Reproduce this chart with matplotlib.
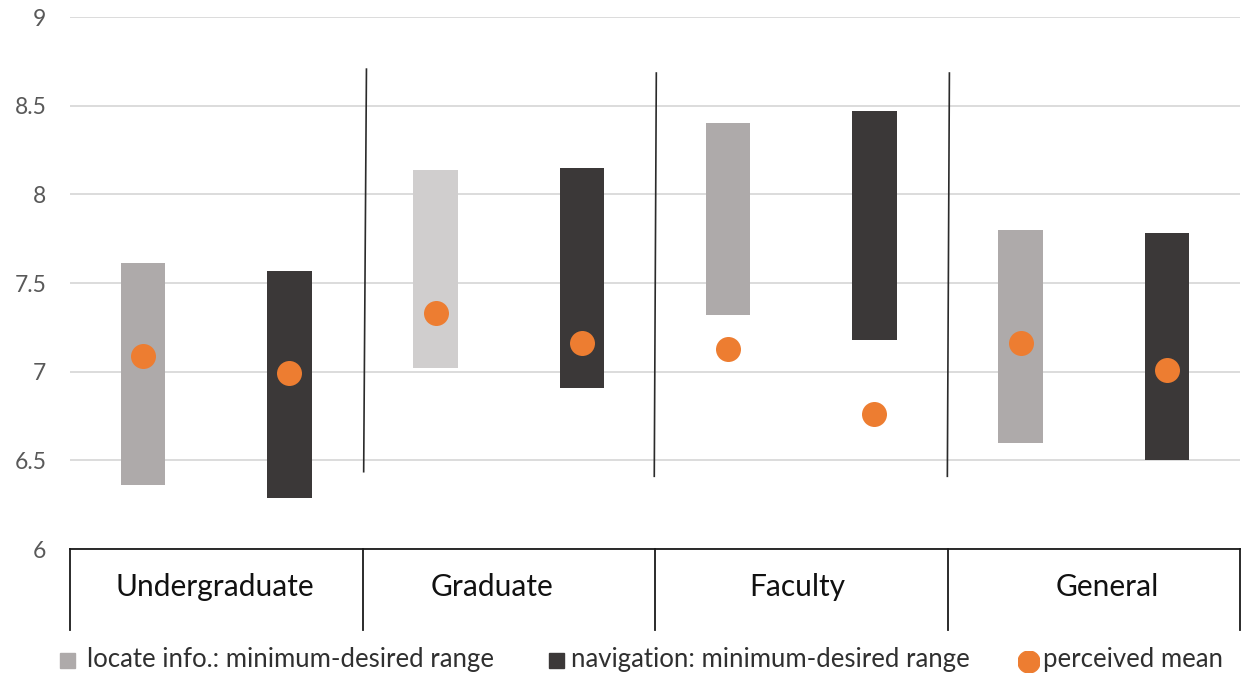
import matplotlib
matplotlib.use("Agg")
import matplotlib.pyplot as plt
from matplotlib.patches import Rectangle, Circle
from matplotlib.transforms import blended_transform_factory

# Respondent groups and their min-desired ranges (two bars per group)
groups = ["Undergraduate", "Graduate", "Faculty", "General"]
locate_min = [6.36, 7.02, 7.32, 6.60]
locate_desired = [7.61, 8.14, 8.40, 7.80]
nav_min = [6.29, 6.91, 7.18, 6.50]
nav_desired = [7.57, 8.15, 8.47, 7.78]
locate_perceived = [7.09, 7.33, 7.13, 7.16]
nav_perceived = [6.99, 7.16, 6.76, 7.01]
y_ticks = [6, 6.5, 7, 7.5, 8, 8.5, 9]
y_tick_labels = ["6", "6.5", "7", "7.5", "8", "8.5", "9"]
legend_labels = ["locate info.: minimum-desired range",
                 "navigation: minimum-desired range",
                 "perceived mean"]

LOCATE = "#AEAAAA"
LOCATE_LIGHT = "#D0CECE"
NAV = "#3B3838"
ORANGE = "#ED7D31"
FONT = "Lato"

plt.rcParams["font.family"] = [FONT, "DejaVu Sans"]

W, H = 1241, 677
fig = plt.figure(figsize=(W / 100, H / 100), dpi=100)
ax = fig.add_axes([70 / W, 1 - 549 / H, 1170 / W, 532 / H])

n = len(groups)
x_loc = [2 * i for i in range(n)]
x_nav = [2 * i + 1 for i in range(n)]
bw = 0.305

loc_colors = [LOCATE_LIGHT if g == "Graduate" else LOCATE for g in groups]
ax.bar(x_loc, [t - b for t, b in zip(locate_desired, locate_min)],
       bottom=locate_min, width=bw, color=loc_colors, zorder=3)
ax.bar(x_nav, [t - b for t, b in zip(nav_desired, nav_min)],
       bottom=nav_min, width=bw, color=NAV, zorder=3)
ax.plot(x_loc, locate_perceived, "o", ms=18, color=ORANGE, mec="none", zorder=4)
ax.plot(x_nav, nav_perceived, "o", ms=18, color=ORANGE, mec="none", zorder=4)

ax.set_xlim(-0.5, 2 * n - 0.5)
ax.set_ylim(6, 9)
ax.set_yticks(y_ticks)
ax.set_yticklabels(y_tick_labels)
ax.tick_params(axis="y", length=0, pad=17, labelsize=16.5, labelcolor="#595959")
ax.set_xticks([])
ax.yaxis.grid(True, color="#D9D9D9", lw=1.3, zorder=0)
for s in ["top", "right", "left"]:
    ax.spines[s].set_visible(False)
ax.spines["bottom"].set_color("#1a1a1a")
ax.spines["bottom"].set_linewidth(1.3)
ax.spines["bottom"].set_zorder(5)

# Hand-placed dividers between groups inside the plot
dividers = [((1.527, 8.706), (1.508, 6.436)),
            ((3.509, 8.684), (3.495, 6.41)),
            ((5.513, 8.684), (5.499, 6.41))]
for (x0, y0), (x1, y1) in dividers:
    ax.plot([x0, x1], [y0, y1], color="#2b2b2b", lw=1.2, zorder=2)

# Category axis box underneath
tr = blended_transform_factory(ax.transData, ax.transAxes)
box_bottom = -(630 - 549) / 532
for xb in [-0.5, 1.5, 3.5, 5.5, 7.5]:
    ax.plot([xb, xb], [0, box_bottom], color="#1a1a1a", lw=1.3,
            transform=tr, clip_on=False)
label_x = [0.488, 2.383, 4.471, 6.593]
for lx, g in zip(label_x, groups):
    ax.text(lx, -(587 - 549) / 532, g, transform=tr, ha="center", va="center",
            fontsize=21.5, color="#111111")

# Legend along the bottom edge
pix = lambda px, py: (px / W, 1 - py / H)
ly = 660
fig.add_artist(Rectangle(pix(60, ly + 7.5), 15 / W, 15 / H, color=LOCATE,
                         transform=fig.transFigure))
fig.text(*pix(87, ly), legend_labels[0], ha="left", va="center",
         fontsize=18.5, color="#303030")
fig.add_artist(Rectangle(pix(549, ly + 7.5), 15 / W, 15 / H, color=NAV,
                         transform=fig.transFigure))
fig.text(*pix(571, ly), legend_labels[1], ha="left", va="center",
         fontsize=18.5, color="#303030")
ax_leg = fig.add_axes([1018 / W, 1 - 673 / H, 22 / W, 22 / H])
ax_leg.set_xlim(0, 1)
ax_leg.set_ylim(0, 1)
ax_leg.set_aspect("equal")
ax_leg.axis("off")
ax_leg.add_patch(Circle((0.5, 0.5), 0.5, color=ORANGE))
fig.text(*pix(1043, ly), legend_labels[2], ha="left", va="center",
         fontsize=18.5, color="#303030")

fig.savefig("out.png", dpi=100, facecolor="white")
